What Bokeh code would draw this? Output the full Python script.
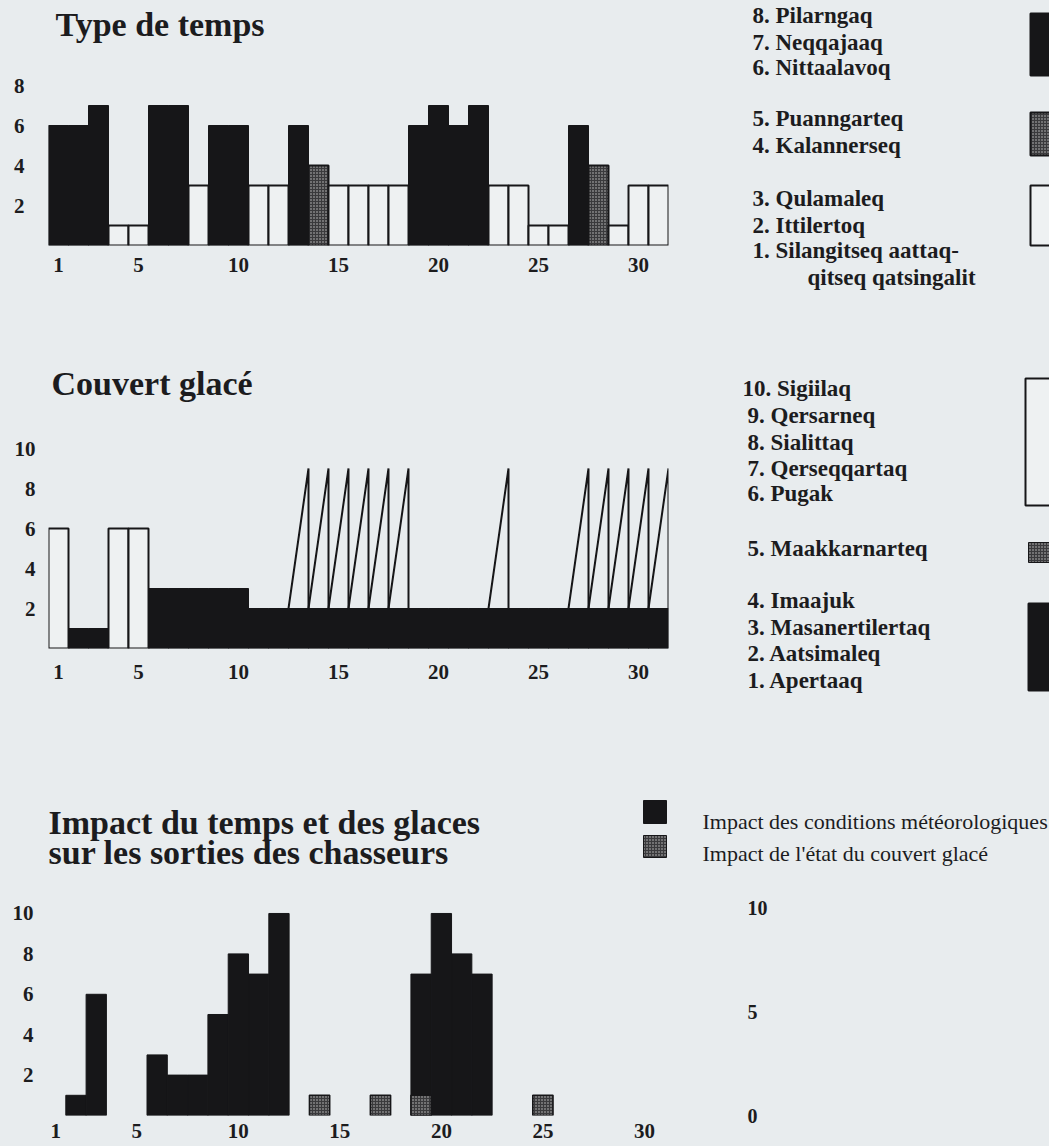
from bokeh.plotting import figure
from bokeh.models import Range1d, FixedTicker, LinearAxis
from bokeh.layouts import row, column
from bokeh.embed import file_html
from bokeh.resources import INLINE
from bokeh.core.properties import value

# ---------------- data ----------------
days = list(range(1, 32))

# Type de temps (1..8) per day
weather_type = [6, 6, 7, 1, 1, 7, 7, 3, 6, 6, 3, 3, 6, 4, 3, 3,
                3, 3, 6, 7, 6, 7, 3, 3, 1, 1, 6, 4, 1, 3, 3]

# Couvert glace (1..10) per day
ice_cover = [6, 1, 1, 6, 6, 3, 3, 3, 3, 3, 2, 2, 2, 2, 2, 2,
             2, 2, 2, 2, 2, 2, 2, 2, 2, 2, 2, 2, 2, 2, 2]
ridge_days = [13, 14, 15, 16, 17, 18, 23, 27, 28, 29, 30, 31]
ridge_level = 9

# Impact on hunters' outings
impact_weather = [0, 1, 6, 0, 0, 3, 2, 2, 5, 8, 7, 10, 0, 0, 0, 0,
                  0, 0, 7, 10, 8, 7, 0, 0, 0, 0, 0, 0, 0, 0, 0]
impact_ice = [0, 0, 0, 0, 0, 0, 0, 0, 0, 0, 0, 0, 0, 1, 0, 0,
              1, 0, 1, 0, 0, 0, 0, 0, 1, 0, 0, 0, 0, 0, 0]

x_ticks = [1, 5, 10, 15, 20, 25, 30]
weather_ticks = [2, 4, 6, 8]
ice_ticks = [2, 4, 6, 8, 10]
impact_ticks = [2, 4, 6, 8, 10]
impact_right_ticks = [0, 5, 10]

weather_title = "Type de temps"
ice_title = "Couvert glacé"
impact_title = ["Impact du temps et des glaces", "sur les sorties des chasseurs"]

weather_legend = ["8. Pilarngaq", "7. Neqqajaaq", "6. Nittaalavoq",
                  "5. Puanngarteq", "4. Kalannerseq",
                  "3. Qulamaleq", "2. Ittilertoq", "1. Silangitseq  aattaq-",
                  "qitseq  qatsingalit"]
ice_legend = ["10. Sigiilaq", "9. Qersarneq", "8. Sialittaq", "7. Qerseqqartaq",
              "6. Pugak", "5. Maakkarnarteq", "4. Imaajuk", "3. Masanertilertaq",
              "2. Aatsimaleq", "1. Apertaaq"]
impact_legend = ["Impact des conditions météorologiques",
                 "Impact de l'état du couvert glacé"]

# ---------------- style ----------------
BG = "#e8ecee"
INK = "#161618"
TXT = "#1c1c1e"
WHITE = "#eef1f2"
STIP = "#3a3a3c"
SERIF = "Liberation Serif"

STIP_KW = dict(fill_color=STIP, hatch_pattern="dot", hatch_color="#c4c4c4",
               hatch_scale=3, hatch_weight=1)


def base_fig(width, height, xr, yr, **kw):
    p = figure(width=width, height=height, x_range=Range1d(*xr), y_range=Range1d(*yr),
               output_backend="svg", toolbar_location=None, **kw)
    p.background_fill_color = BG
    p.border_fill_color = BG
    p.outline_line_color = None
    p.grid.visible = False
    p.frame_align = False
    p.styles = {"background-color": BG}
    return p


def style_axis(ax, standoff, size="21px", style="bold"):
    ax.axis_line_color = None
    ax.major_tick_line_color = None
    ax.minor_tick_line_color = None
    ax.major_tick_out = 0
    ax.major_tick_in = 0
    ax.minor_tick_out = 0
    ax.minor_tick_in = 0
    ax.major_label_standoff = standoff
    ax.major_label_text_font = SERIF
    ax.major_label_text_font_style = style
    ax.major_label_text_font_size = size
    ax.major_label_text_color = TXT


def style_title(p, offset):
    p.title.text_font = SERIF
    p.title.text_font_style = "bold"
    p.title.text_font_size = "34px"
    p.title.text_color = TXT
    p.title.align = "left"
    p.title.offset = offset
    p.title.standoff = 0


def ident_fig(width, height, x0, x1, y0, y1):
    p = figure(width=width, height=height, x_range=Range1d(x0, x1), y_range=Range1d(y1, y0),
               output_backend="svg", toolbar_location=None, min_border=0,
               x_axis_location=None, y_axis_location=None, title=None)
    p.background_fill_color = BG
    p.border_fill_color = BG
    p.outline_line_color = None
    p.grid.visible = False
    p.frame_align = False
    p.styles = {"background-color": BG}
    return p


def split(vals, pred):
    d = [x for x, v in zip(days, vals) if pred(v)]
    t = [v for v in vals if pred(v)]
    return d, t


# ---------------- chart 1: Type de temps ----------------
c1 = base_fig(740, 320, (0.5, 31.5), (0, 10.15),
              min_border_left=48, min_border_right=72, min_border_top=42, min_border_bottom=75)
c1.title.text = weather_title
style_title(c1, 7)

bd, bt = split(weather_type, lambda v: v >= 6)
sd, st = split(weather_type, lambda v: 4 <= v <= 5)
wd, wt = split(weather_type, lambda v: v <= 3)
c1.vbar(x=bd, top=bt, width=1, bottom=0, fill_color=INK, line_color=INK, line_width=1)
c1.vbar(x=sd, top=st, width=1, bottom=0, line_color=INK, line_width=2, **STIP_KW)
c1.vbar(x=wd, top=wt, width=1, bottom=0, fill_color=WHITE, line_color=INK, line_width=2)

c1.xaxis.ticker = FixedTicker(ticks=x_ticks)
c1.yaxis.ticker = FixedTicker(ticks=weather_ticks)
style_axis(c1.xaxis[0], 12)
style_axis(c1.yaxis[0], 24)

l1 = ident_fig(309, 320, 740, 1049, 0, 320)
l1.text(x=[752] * 8 + [807], y=[15, 42, 67, 118, 145, 198, 225, 250, 277], text=weather_legend,
        text_font=value(SERIF), text_font_style="bold", text_font_size="23px",
        text_baseline="middle", text_color=TXT)
l1.quad(left=[1030], right=[1052], top=[13], bottom=[75], fill_color=INK, line_color=INK, line_width=2)
l1.quad(left=[1030], right=[1052], top=[112], bottom=[155], line_color=INK, line_width=2, **STIP_KW)
l1.quad(left=[1030], right=[1052], top=[185], bottom=[245], fill_color=WHITE, line_color=INK, line_width=2)

# ---------------- chart 2: Couvert glace ----------------
c2 = base_fig(740, 410, (0.5, 31.5), (0, 12.35),
              min_border_left=48, min_border_right=72, min_border_top=81, min_border_bottom=82)
c2.title.text = ice_title
style_title(c2, 3)

bd, bt = split(ice_cover, lambda v: v <= 4)
sd, st = split(ice_cover, lambda v: v == 5)
wd, wt = split(ice_cover, lambda v: v >= 6)
c2.vbar(x=bd, top=bt, width=1, bottom=0, fill_color=INK, line_color=INK, line_width=1)
if sd:
    c2.vbar(x=sd, top=st, width=1, bottom=0, line_color=INK, line_width=2, **STIP_KW)
c2.vbar(x=wd, top=wt, width=1, bottom=0, fill_color=WHITE, line_color=INK, line_width=2)

rx = [[d - 0.5, d + 0.5, d + 0.5] for d in ridge_days]
ry = [[ice_cover[d - 1], ridge_level, ice_cover[d - 1]] for d in ridge_days]
c2.multi_line(xs=rx, ys=ry, line_color=INK, line_width=2)

c2.xaxis.ticker = FixedTicker(ticks=x_ticks)
c2.yaxis.ticker = FixedTicker(ticks=ice_ticks)
style_axis(c2.xaxis[0], 16)
style_axis(c2.yaxis[0], 13)

l2 = ident_fig(309, 410, 740, 1049, 320, 730)
l2.text(x=[742] + [747] * 9, y=[388, 415, 442, 468, 493, 548, 600, 627, 653, 680], text=ice_legend,
        text_font=value(SERIF), text_font_style="bold", text_font_size="23px",
        text_baseline="middle", text_color=TXT)
l2.quad(left=[1025], right=[1052], top=[378], bottom=[505], fill_color=WHITE, line_color=INK, line_width=2)
l2.quad(left=[1028], right=[1052], top=[542], bottom=[562], line_color=INK, line_width=1, **STIP_KW)
l2.quad(left=[1028], right=[1052], top=[603], bottom=[690], fill_color=INK, line_color=INK, line_width=2)

# ---------------- chart 3: Impact ----------------
t3 = ident_fig(1049, 140, 0, 1049, 730, 870)
t3.text(x=[48, 48], y=[822, 852], text=impact_title,
        text_font=value(SERIF), text_font_style="bold", text_font_size="34px",
        text_baseline="alphabetic", text_color=TXT)
t3.quad(left=[643], right=[666], top=[800], bottom=[823], fill_color=INK, line_color=INK, line_width=1)
t3.quad(left=[643], right=[666], top=[835], bottom=[857], line_color=INK, line_width=1, **STIP_KW)
t3.text(x=[702, 702], y=[821, 853], text=impact_legend,
        text_font=value(SERIF), text_font_size="22px",
        text_baseline="alphabetic", text_color=TXT)

c3 = base_fig(1049, 276, (0.5, 34.98), (0, 11.88),
              min_border_left=45, min_border_right=304, min_border_top=5, min_border_bottom=31,
              title=None)
c3.extra_y_ranges = {"right": Range1d(0, 11.59)}

bd, bt = split(impact_weather, lambda v: v > 0)
sd, st = split(impact_ice, lambda v: v > 0)
c3.vbar(x=bd, top=bt, width=1, bottom=0, fill_color=INK, line_color=INK, line_width=1)
c3.vbar(x=sd, top=st, width=1, bottom=0, line_color=INK, line_width=1.5, **STIP_KW)

c3.xaxis.ticker = FixedTicker(ticks=x_ticks)
c3.yaxis.ticker = FixedTicker(ticks=impact_ticks)
style_axis(c3.xaxis[0], 8)
style_axis(c3.yaxis[0], 12)
rax = LinearAxis(y_range_name="right", ticker=FixedTicker(ticks=impact_right_ticks))
style_axis(rax, 2, size="20px")
c3.add_layout(rax, "right")

r1 = row(c1, l1, styles={"background-color": BG})
r2 = row(c2, l2, styles={"background-color": BG})
layout = column(r1, r2, t3, c3, styles={"background-color": BG})

open("out.html", "w").write(file_html(layout, INLINE))
